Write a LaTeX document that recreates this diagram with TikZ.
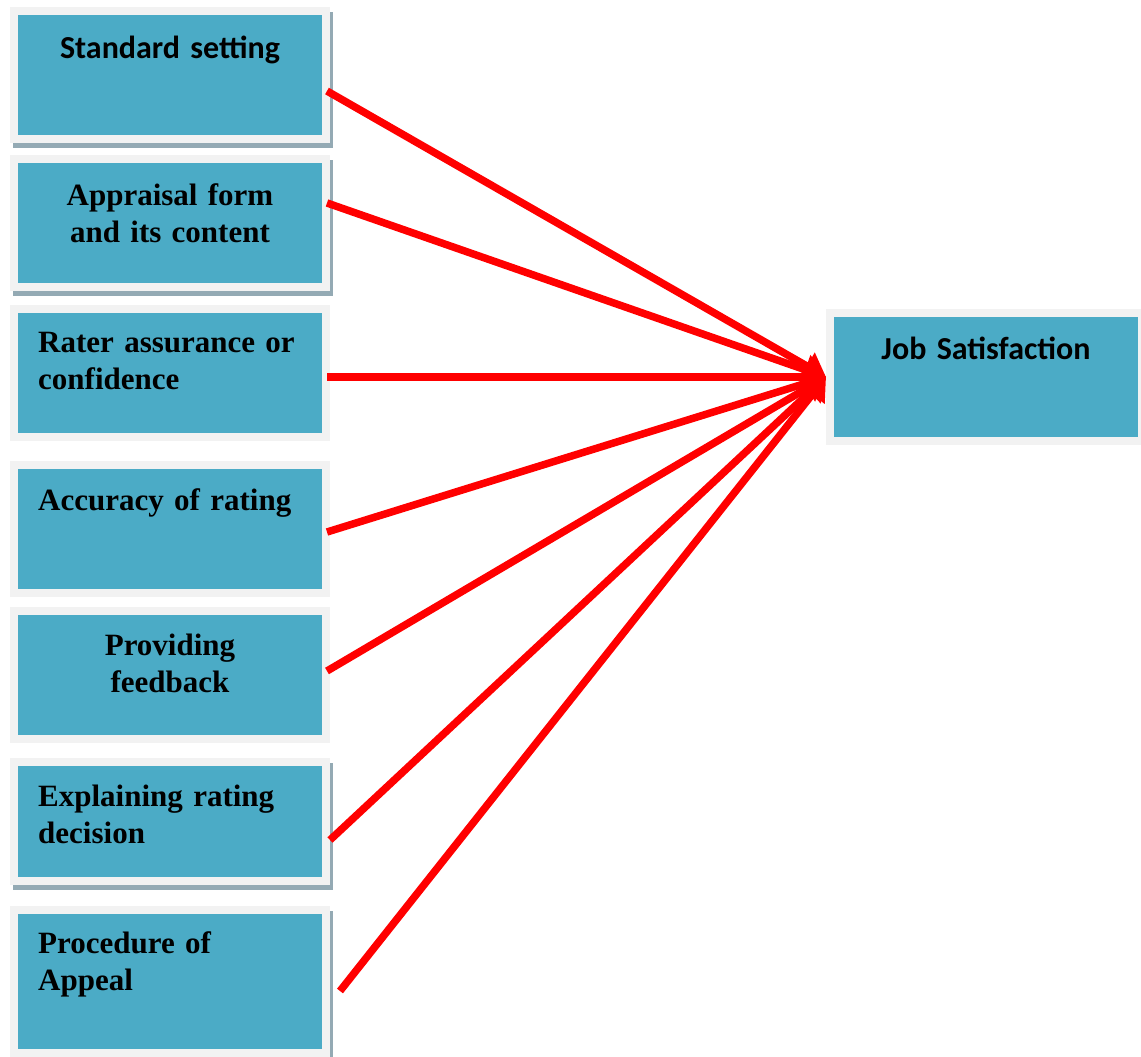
\documentclass[tikz,border=0pt]{standalone}
\usepackage{fontspec}
\setmainfont{Liberation Serif}
\newfontfamily\calibrifont{Carlito}
\usepackage{tikz}
\usetikzlibrary{arrows.meta,calc,shadows}
\definecolor{boxteal}{RGB}{75,171,198}
\definecolor{framegray}{RGB}{242,242,242}
\definecolor{shadowgray}{RGB}{148,170,180}

\begin{document}
\begin{tikzpicture}[x=1pt, y=-1pt,
        every node/.style={font=\fontsize{31}{37.5}\selectfont\bfseries},
        factor/.style={rectangle, fill=framegray, minimum width=320pt, inner sep=0pt, outer sep=0pt,
            path picture={\fill[boxteal] ($(path picture bounding box.south west)+(8pt,8pt)$) rectangle ($(path picture bounding box.north east)+(-8pt,-8pt)$);}},
        lifted/.style={drop shadow={shadow xshift=3pt, shadow yshift=-5pt, fill=shadowgray, opacity=1}},
        lefttext/.style={anchor=base west, inner sep=0pt, text width=290pt, align=left},
        midtext/.style={anchor=base, inner sep=0pt, text width=300pt, align=center},
        link/.style={draw=red, line width=7.5pt, -{Triangle[length=22pt,width=30pt]}}]
            \useasboundingbox (0,0) rectangle (1141,1057);

            \node[factor, lifted, minimum height=136pt] (std) at (170,75) {};
            \node[factor, lifted, minimum height=136pt] (form) at (170,223) {};
            \node[factor, minimum height=136pt] (rater) at (170,373) {};
            \node[factor, minimum height=136pt] (acc) at (170,529) {};
            \node[factor, minimum height=136pt] (feed) at (170,675) {};
            \node[factor, lifted, minimum height=127pt] (expl) at (170,821.5) {};
            \node[factor, lifted, minimum height=151pt] (appeal) at (170,981.5) {};
            \node[factor, minimum height=136pt] (job) at (986,377) {};

            \node[midtext] (std-t) at (170,59) {\calibrifont\fontsize{32}{37.5}\selectfont Standard setting};
            \node[midtext] (form-t) at (170,205) {Appraisal form\\and its content};
            \node[lefttext] (rater-t) at (38,352) {Rater assurance or\\confidence};
            \node[lefttext] (acc-t) at (38,510) {Accuracy of rating};
            \node[midtext] (feed-t) at (170,655) {Providing\\feedback};
            \node[lefttext] (expl-t) at (38,806) {Explaining rating\\decision};
            \node[lefttext] (appeal-t) at (38,953) {Procedure of\\Appeal};
            \node[midtext] (job-t) at (986,359) {\calibrifont\fontsize{32}{37.5}\selectfont Job Satisfaction};

            \coordinate (s1) at (327,91);
            \coordinate (s2) at (327,203);
            \coordinate (s3) at (327,377);
            \coordinate (s4) at (327,532);
            \coordinate (s5) at (327,671);
            \coordinate (s6) at (330,840);
            \coordinate (s7) at (340,991);

            \draw[link] (s1) -- (job.west);
            \draw[link] (s2) -- (job.west);
            \draw[link] (s3) -- (job.west);
            \draw[link] (s4) -- (job.west);
            \draw[link] (s5) -- (job.west);
            \draw[link] (s6) -- (job.west);
            \draw[link] (s7) -- (job.west);
        \end{tikzpicture}
\end{document}
